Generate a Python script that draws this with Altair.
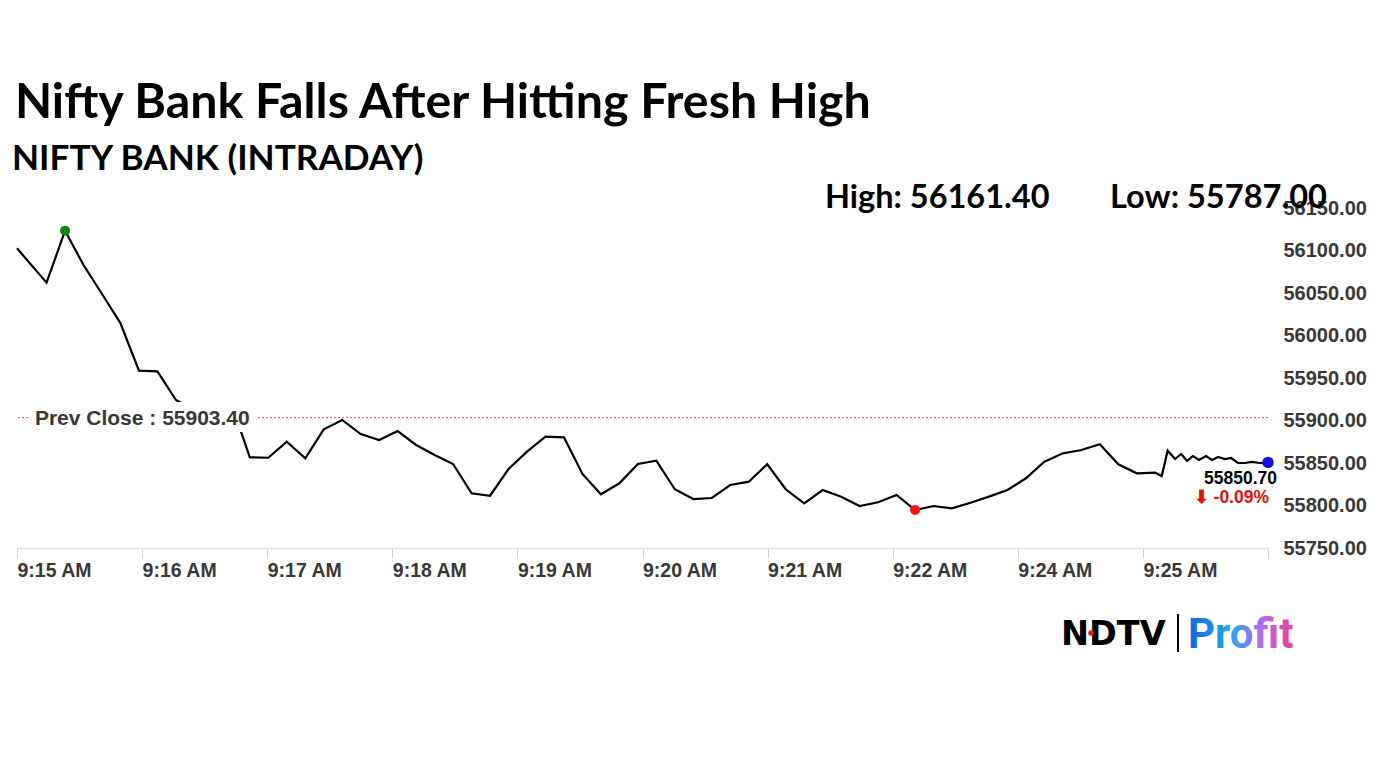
import json
import altair as alt
import pandas as pd

# ---- data -----------------------------------------------------------------
# seconds after 9:15:00 for each quote
times = [0, 16, 26, 36, 46, 56, 66, 76, 86, 96, 106, 116, 126, 136, 146, 156,
         166, 176, 186, 196, 206, 216, 226, 236, 246, 256, 266, 276, 286, 296,
         306, 316, 326, 336, 346, 356, 366, 376, 386, 396, 406, 416, 426, 436,
         446, 456, 466, 476, 486, 496, 506, 516, 526, 536, 546, 556, 566, 576,
         586, 596, 606, 616, 619.5, 622.7, 626.7, 630.0, 633.2, 636.4, 639.7,
         643.5, 646.7, 650.0, 653.7, 657.0, 660.8, 664.5, 668.3, 672.7, 677]
prices = [56102.6, 56062.1, 56123.3, 56082.9, 56048.8, 56014.4, 55958.6, 55957.9,
          55924.1, 55912.4, 55910.0, 55920.0, 55856.7, 55856.2, 55875.1, 55855.5,
          55889.6, 55900.6, 55884.1, 55877.1, 55887.6, 55871.2, 55859.4, 55848.8,
          55814.4, 55811.5, 55842.9, 55863.3, 55880.9, 55880.2, 55837.1, 55813.2,
          55826.1, 55848.8, 55852.7, 55819.1, 55807.6, 55808.8, 55824.1, 55828.0,
          55848.5, 55819.1, 55802.6, 55818.2, 55810.4, 55799.4, 55803.8, 55812.4,
          55794.7, 55799.4, 55796.7, 55803.3, 55810.4, 55818.2, 55832.0, 55851.5,
          55861.4, 55865.3, 55872.0, 55848.5, 55837.9, 55838.6, 55834.7, 55864.5,
          55854.7, 55860.6, 55852.4, 55858.2, 55853.5, 55858.2, 55853.5, 55857.1,
          55854.7, 55855.9, 55850.0, 55850.0, 55851.2, 55850.0, 55850.7]

tick_labels = ["9:15 AM", "9:16 AM", "9:17 AM", "9:18 AM", "9:19 AM", "9:20 AM",
               "9:21 AM", "9:22 AM", "9:24 AM", "9:25 AM", ""]
tick_values = [0, 67.7, 135.4, 203.1, 270.8, 338.5, 406.2, 473.9, 541.6, 609.3, 677]
y_ticks = [55750, 55800, 55850, 55900, 55950, 56000, 56050, 56100, 56150]

prev_close = 55903.40
day_high = 56161.40
day_low = 55787.00
last_price = 55850.70
change_pct = -0.09

title_text = "Nifty Bank Falls After Hitting Fresh High"
subtitle_text = "NIFTY BANK (INTRADAY)"

# ---- frames ----------------------------------------------------------------
df = pd.DataFrame({"t": times, "price": prices})
hi_df = df.loc[[df["price"].idxmax()]]
lo_df = df.loc[[df["price"].idxmin()]]
last_df = df.iloc[[-1]].assign(
    lbl=f"{last_price:.2f}", chg=f"\u2b07 {change_pct:.2f}%")
prev_df = pd.DataFrame({"t": [9.7], "price": [prev_close],
                        "lbl": [f"Prev Close : {prev_close:.2f}"]})
prev_box = pd.DataFrame({"t": [7.0], "t2": [130.4], "price": [55886.5], "price2": [55921.8]})

AXF = "Liberation Sans"
GRAY = "#383838"

xscale = alt.Scale(domain=[0, 677], nice=False, zero=False)
yscale = alt.Scale(domain=[55750, 56150], nice=False, zero=False)

label_expr = json.dumps(tick_labels) + "[round(datum.value / 67.7)]"

x_axis = alt.Axis(values=tick_values, labelExpr=label_expr, grid=False,
                  tickSize=10, tickColor="#d0d0d0", domainColor="#e3e3e3",
                  domainWidth=1.5, labelAlign="left", labelFont=AXF,
                  labelFontWeight="bold", labelFontSize=19.5,
                  labelColor=GRAY, labelPadding=3, labelOverlap=False,
                  labelFlush=False)
y_axis = alt.Axis(orient="right", values=y_ticks, format=".2f", grid=False,
                  ticks=False, domain=False, labelAlign="left",
                  labelPadding=15, labelFont=AXF, labelFontWeight="bold",
                  labelFontSize=20, labelColor=GRAY, labelOverlap=False,
                  labelFlush=False)

X = alt.X("t:Q", scale=xscale, title=None, axis=x_axis)
Y = alt.Y("price:Q", scale=yscale, title=None, axis=y_axis)

prev_rule = alt.Chart(prev_df).mark_rule(
    color="#e4585c", strokeDash=[2, 2], strokeWidth=1).encode(y=Y)

line = alt.Chart(df).mark_line(color="black", strokeWidth=2.2).encode(x=X, y=Y)

box = alt.Chart(prev_box).mark_rect(color="white").encode(
    x=X, x2="t2:Q", y=Y, y2="price2:Q")

prev_text = alt.Chart(prev_df).mark_text(
    align="left", baseline="middle", font=AXF, fontWeight="bold", fontSize=21,
    color=GRAY, dy=1).encode(x=X, y=Y, text="lbl:N")

hi_dot = alt.Chart(hi_df).mark_point(filled=True, size=100, color="#0a8a0a",
                                     opacity=1).encode(x=X, y=Y)
lo_dot = alt.Chart(lo_df).mark_point(filled=True, size=100, color="#ff1010",
                                     opacity=1).encode(x=X, y=Y)
last_dot = alt.Chart(last_df).mark_point(filled=True, size=130, color="#1010e0",
                                         opacity=1).encode(x=X, y=Y)

def end_label(field, dx, dy, color, halo):
    kw = dict(align="right", baseline="alphabetic", font=AXF, fontSize=17.5,
              fontWeight="bold", dx=dx, dy=dy)
    if halo:
        kw.update(color="white", stroke="white", strokeWidth=5, strokeJoin="round")
    else:
        kw.update(color=color)
    return alt.Chart(last_df).mark_text(**kw).encode(x=X, y=Y, text=f"{field}:N")

labels_end = [
    end_label("lbl", 9, 22, "black", True),
    end_label("chg", 1, 41, "#e01010", True),
    end_label("lbl", 9, 22, "black", False),
    end_label("chg", 1, 41, "#e01010", False),
]

# ---- header and footer text -----------------------------------------------
TF = "Lato"
hdr = pd.DataFrame({
    "s": [title_text, subtitle_text, f"High: {day_high:.2f}", f"Low: {day_low:.2f}"],
    "k": ["title", "sub", "high", "low"],
})

def hdr_text(k, x, y, size):
    return alt.Chart(hdr).transform_filter(alt.datum.k == k).mark_text(
        align="left", baseline="alphabetic", font=TF, fontWeight="bold",
        fontSize=size, color="black").encode(
        x=alt.value(x), y=alt.value(y), text="s:N")

headers = [
    hdr_text("title", -2, -90, 48.3),
    hdr_text("sub", -5, -38, 35.2),
    hdr_text("high", 808, 0, 32.5),
    hdr_text("low", 1093, 0, 32.6),
]

logo_df = pd.DataFrame({"a": ["NDTV"], "b": ["Profit"]})
ndtv = alt.Chart(logo_df).mark_text(
    align="left", baseline="alphabetic", font="DejaVu Sans", fontWeight="bold",
    fontSize=33.5, color="black").encode(x=alt.value(1044), y=alt.value(437), text="a:N")
ndtv_dot = alt.Chart(logo_df).mark_point(
    filled=True, size=30, color="#e8141e", opacity=1).encode(
    x=alt.value(1074), y=alt.value(425))
sep = alt.Chart(logo_df).mark_rule(color="black", strokeWidth=2).encode(
    x=alt.value(1161), y=alt.value(406), y2=alt.value(444))
profit = alt.Chart(logo_df).mark_text(
    align="left", baseline="alphabetic", font="Roboto", fontWeight="bold",
    fontSize=42,
    color=alt.Gradient(gradient="linear", x1=0, x2=1, y1=0, y2=0,
                       stops=[alt.GradientStop(color="#1466dc", offset=0),
                              alt.GradientStop(color="#22a8ee", offset=0.4),
                              alt.GradientStop(color="#b06cf0", offset=0.7),
                              alt.GradientStop(color="#f03c8c", offset=1)])
).encode(x=alt.value(1171), y=alt.value(440), text="b:N")

chart = alt.layer(
    line, prev_rule, box, prev_text, hi_dot, lo_dot, last_dot, *labels_end,
    *headers, ndtv, ndtv_dot, sep, profit
).properties(
    width=1251, height=340,
    padding={"left": 9, "top": 200, "right": 106, "bottom": 120},
    autosize=alt.AutoSizeParams(type="none"),
    background="white",
).configure_view(stroke=None)

chart.save("out.html", embed_options={"renderer": "svg", "actions": False})
